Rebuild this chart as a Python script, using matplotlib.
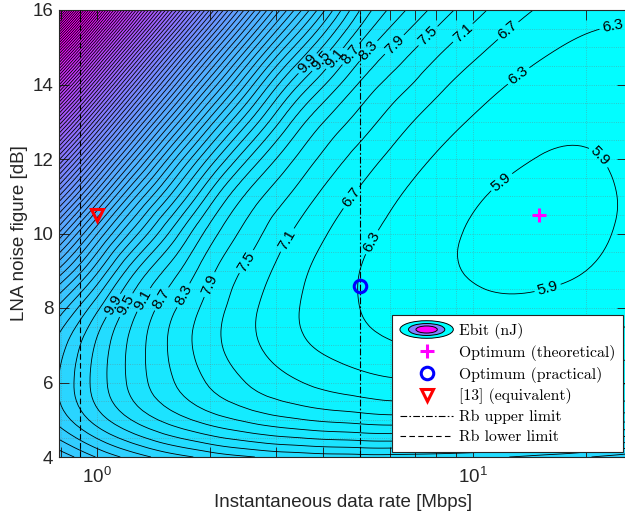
import numpy as np
import matplotlib
matplotlib.use('Agg')
import matplotlib.pyplot as plt
import matplotlib.tri as mtri
from matplotlib.ticker import LogLocator, MultipleLocator, NullFormatter
from matplotlib.legend_handler import HandlerBase
from matplotlib.patches import Ellipse, Patch

plt.rcParams['font.family'] = ['Liberation Sans', 'DejaVu Sans']

# Ebit map (nJ): rows = LNA noise figure, cols = data rate
rate_mbps = [0.79, 1, 1.25, 1.6, 2, 2.5, 3.2, 4, 5, 6.3, 8, 10, 12.5, 16, 20, 26]
nf_db = [4, 5, 6, 7, 8, 9, 10, 11, 12, 13, 14, 15, 16]
ebit_nj = [
    [12.19, 11.47, 10.92, 10.46, 10.16, 9.94, 9.78, 9.69, 9.66, 9.66, 9.71, 9.79, 9.90, 10.07, 10.26, 10.54],
    [10.96, 10.12, 9.46, 8.90, 8.51, 8.22, 7.98, 7.83, 7.74, 7.68, 7.67, 7.69, 7.75, 7.86, 7.99, 8.21],
    [10.69, 9.73, 8.96, 8.31, 7.85, 7.49, 7.19, 7.00, 6.86, 6.76, 6.71, 6.70, 6.73, 6.80, 6.91, 7.09],
    [10.93, 9.83, 8.95, 8.19, 7.65, 7.23, 6.87, 6.63, 6.45, 6.32, 6.24, 6.21, 6.21, 6.26, 6.35, 6.50],
    [11.80, 10.40, 9.24, 8.35, 7.73, 7.23, 6.81, 6.52, 6.30, 6.14, 6.03, 5.97, 5.95, 5.98, 6.05, 6.19],
    [13.40, 11.60, 10.00, 8.85, 8.00, 7.42, 6.92, 6.57, 6.30, 6.10, 5.96, 5.88, 5.84, 5.85, 5.90, 6.03],
    [15.46, 13.12, 11.30, 9.70, 8.50, 7.75, 7.15, 6.74, 6.42, 6.17, 5.99, 5.87, 5.81, 5.80, 5.84, 5.95],
    [17.91, 15.12, 12.84, 10.90, 9.35, 8.23, 7.52, 7.01, 6.63, 6.32, 6.09, 5.94, 5.85, 5.82, 5.84, 5.93],
    [20.81, 17.50, 14.79, 12.36, 10.58, 9.15, 8.05, 7.40, 6.93, 6.55, 6.26, 6.07, 5.95, 5.88, 5.88, 5.95],
    [24.28, 20.34, 17.11, 14.22, 12.10, 10.40, 8.85, 7.91, 7.33, 6.86, 6.50, 6.26, 6.09, 5.99, 5.96, 6.00],
    [28.41, 23.71, 19.87, 16.43, 13.91, 11.85, 9.95, 8.75, 7.85, 7.27, 6.82, 6.51, 6.29, 6.14, 6.07, 6.09],
    [33.31, 27.73, 23.16, 19.06, 16.06, 13.61, 11.40, 9.85, 8.60, 7.80, 7.23, 6.84, 6.55, 6.34, 6.23, 6.21],
    [39.17, 32.52, 27.07, 22.20, 18.63, 15.71, 13.10, 11.18, 9.50, 8.47, 7.76, 7.26, 6.88, 6.60, 6.44, 6.36],
]

opt_theory = (15.0, 10.5)
opt_practical = (5.0, 8.6)
ref13 = (1.0, 10.5)
rb_upper = 5.0
rb_lower = 0.9

# where the inline labels sit (rate, NF)
label_pos = {
    5.9: [(11.8, 11.44), (22.2, 12.16), (15.5, 8.83)],
    6.3: [(5.42, 9.75), (13.3, 14.2), (23.6, 15.52)],
    6.7: [(4.77, 10.95), (12.5, 15.41)],
    7.1: [(3.2, 9.83), (9.52, 15.33)],
    7.5: [(2.51, 9.23), (7.69, 15.25)],
    7.9: [(2.0, 8.62), (6.2, 15.06)],
    8.3: [(1.69, 8.35), (5.32, 14.87)],
    8.7: [(1.47, 8.27), (4.77, 14.79)],
    9.1: [(1.30, 8.27), (4.24, 14.74)],
    9.5: [(1.17, 8.13), (3.92, 14.66)],
    9.9: [(1.07, 8.16), (3.62, 14.58)],
}


class HandlerEbit(HandlerBase):
    def create_artists(self, legend, orig_handle, xdescent, ydescent,
                       width, height, fontsize, trans):
        cx = 0.5 * width - xdescent
        cy = 0.5 * height - ydescent
        out = []
        for s, c in [(1.0, '#00ffff'), (0.68, '#8080ff'), (0.4, '#ff00ff')]:
            out.append(Ellipse((cx, cy), width * s, height * 1.6 * s,
                               facecolor=c, edgecolor='k', lw=0.7,
                               transform=trans))
        return out


# smooth contours from the coarse table (triangulated in log-rate space)
uu, vv = np.meshgrid(np.log10(rate_mbps), np.array(nf_db) / 10.0)
tri = mtri.Triangulation(uu.ravel(), vv.ravel())
tri_f, z_f = mtri.UniformTriRefiner(tri).refine_field(np.ravel(ebit_nj), subdiv=3)
tri_xy = mtri.Triangulation(10 ** tri_f.x, tri_f.y * 10, tri_f.triangles)

levels = np.round(np.arange(5.9, 39.5, 0.4), 1)
fill_levels = np.concatenate([[5.0], levels, [45.0]])
plain_levels = [lv for lv in levels if lv not in label_pos]

fig = plt.figure(figsize=(6.25, 5.21), dpi=100)
ax = fig.add_axes([59 / 625, 64 / 521, 568 / 625, 447 / 521])
ax.set_xscale('log')

ax.tricontourf(tri_xy, z_f, levels=fill_levels, cmap='cool', vmin=5.8, vmax=34)
ax.tricontour(tri_xy, z_f, levels=plain_levels, colors='k', linewidths=0.6)
ax.set_xlim(0.792, 25.7)
ax.set_ylim(4, 16)

# labelled levels get their own contour set so labels land on the right line
for lev, pts in label_pos.items():
    cs = ax.tricontour(tri_xy, z_f, levels=[lev], colors='k', linewidths=0.6)
    ax.clabel(cs, manual=pts, fmt='%.1f', fontsize=11, inline_spacing=3)
ax.set_xlim(0.792, 25.7)
ax.set_ylim(4, 16)

h_plus, = ax.plot(*opt_theory, ls='none', marker='+', color='#ff00ff',
                  ms=10, mew=2.2, zorder=5)
h_circ, = ax.plot(*opt_practical, ls='none', marker='o', mfc='none',
                  mec='#0000ff', ms=9, mew=2.2, zorder=5)
h_tri, = ax.plot(*ref13, ls='none', marker='v', mfc='none', mec='#ff0000',
                 ms=9, mew=2.2, zorder=5)
h_up = ax.axvline(rb_upper, color='k', lw=0.8, ls=(0, (6, 2, 1.5, 2)), zorder=4)
h_lo = ax.axvline(rb_lower, color='k', lw=0.8, ls=(0, (5, 3)), zorder=4)

ax.xaxis.set_major_locator(LogLocator(base=10))
ax.xaxis.set_minor_locator(LogLocator(base=10, subs=np.arange(2, 10)))
ax.xaxis.set_minor_formatter(NullFormatter())
ax.set_yticks(range(4, 17, 2))
ax.yaxis.set_minor_locator(MultipleLocator(0.5))
ax.tick_params(which='both', direction='in', top=True, right=True,
               labelsize=13.5, width=0.7, color='0.15', labelcolor='0.15')
ax.tick_params(axis='x', which='both', length=7, pad=7)
ax.tick_params(axis='y', which='major', length=7, pad=4)
ax.tick_params(axis='y', which='minor', length=0)
ax.grid(True, which='both', ls=':', color='0.45', lw=0.6, alpha=0.5)
for sp in ax.spines.values():
    sp.set_color('0.15')
    sp.set_linewidth(0.8)

ax.set_xlabel('Instantaneous data rate [Mbps]', fontsize=13.5, labelpad=5,
              color='0.15')
ax.set_ylabel('LNA noise figure [dB]', fontsize=13.5, labelpad=3, color='0.15')

ebit_proxy = Patch()
leg = ax.legend([ebit_proxy, h_plus, h_circ, h_tri, h_up, h_lo],
                ['Ebit (nJ)', 'Optimum (theoretical)', 'Optimum (practical)',
                 '[13] (equivalent)', 'Rb upper limit', 'Rb lower limit'],
                handler_map={ebit_proxy: HandlerEbit()},
                loc='lower right', bbox_to_anchor=(0.993, 0.011),
                borderaxespad=0, prop={'family': 'cmr10', 'size': 11.3},
                fancybox=False, framealpha=1, edgecolor='0.15',
                handlelength=3.4, handletextpad=0.35, labelspacing=0.37,
                borderpad=0.5, numpoints=1)
leg.get_frame().set_linewidth(0.8)
leg.set_zorder(10)

fig.savefig('out.png', dpi=100)
